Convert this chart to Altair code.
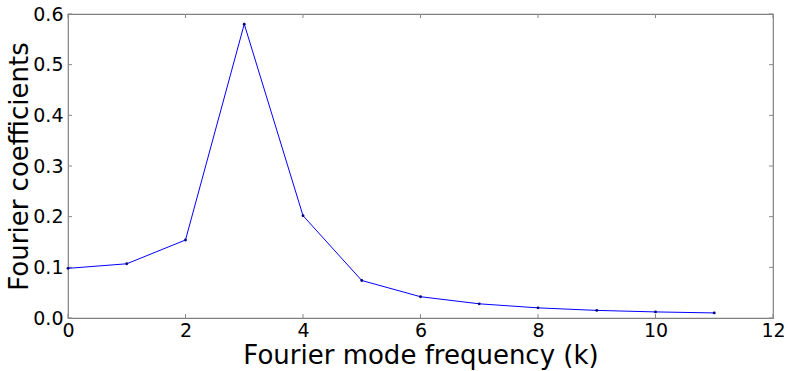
import altair as alt
import pandas as pd

k_values = [0, 1, 2, 3, 4, 5, 6, 7, 8, 9, 10, 11]
coefficients = [0.098, 0.107, 0.154, 0.580, 0.202, 0.074, 0.042, 0.028, 0.020, 0.015, 0.012, 0.010]
x_ticks = [0, 2, 4, 6, 8, 10, 12]
y_ticks = [0.0, 0.1, 0.2, 0.3, 0.4, 0.5, 0.6]

df = pd.DataFrame({"k": k_values, "c": coefficients})
xt = pd.DataFrame({"t": x_ticks})
yt = pd.DataFrame({"t": y_ticks})

W, H = 705, 304
FONT = "DejaVu Sans"

xscale = alt.Scale(domain=[0, 12], nice=False, zero=False)
yscale = alt.Scale(domain=[0, 0.6], nice=False)

line = alt.Chart(df).mark_line(color="#0000ff", strokeWidth=1).encode(
    x=alt.X("k:Q", scale=xscale,
            axis=alt.Axis(values=x_ticks, title="Fourier mode frequency (k)", grid=False,
                          tickSize=0, labelPadding=3, labelFontSize=19, titleFontSize=26,
                          labelFont=FONT, titleFont=FONT, labelColor="black", titleColor="black",
                          titleFontWeight="normal", domain=False, titlePadding=2, labelFlush=False,
                          format="d")),
    y=alt.Y("c:Q", scale=yscale,
            axis=alt.Axis(values=y_ticks, title="Fourier coefficients", grid=False,
                          tickSize=0, labelPadding=5, labelFontSize=19, titleFontSize=26,
                          labelFont=FONT, titleFont=FONT, labelColor="black", titleColor="black",
                          titleFontWeight="normal", domain=False, titlePadding=0, format=".1f",
                          labelFlush=False)),
)
pts = alt.Chart(df).mark_point(filled=True, color="#000080", size=8, opacity=1).encode(
    x=alt.X("k:Q", scale=xscale), y=alt.Y("c:Q", scale=yscale)
)

tick_color = "#888888"
xb = alt.Chart(xt).mark_rule(color=tick_color, strokeWidth=1).encode(
    x=alt.X("t:Q", scale=xscale), y=alt.value(H), y2=alt.value(H - 4))
xtp = alt.Chart(xt).mark_rule(color=tick_color, strokeWidth=1).encode(
    x=alt.X("t:Q", scale=xscale), y=alt.value(0), y2=alt.value(4))
yl = alt.Chart(yt).mark_rule(color=tick_color, strokeWidth=1).encode(
    y=alt.Y("t:Q", scale=yscale), x=alt.value(0), x2=alt.value(4))
yr = alt.Chart(yt).mark_rule(color=tick_color, strokeWidth=1).encode(
    y=alt.Y("t:Q", scale=yscale), x=alt.value(W), x2=alt.value(W - 4))

chart = alt.layer(xb, xtp, yl, yr, line, pts).properties(
    width=W, height=H,
    autosize=alt.AutoSizeParams(type="none"),
    padding={"left": 68, "top": 14, "right": 15, "bottom": 53},
    background="white",
).configure_view(stroke="#808080", strokeWidth=1.2)

chart.save("out.html", embed_options={"renderer": "svg", "actions": False})
